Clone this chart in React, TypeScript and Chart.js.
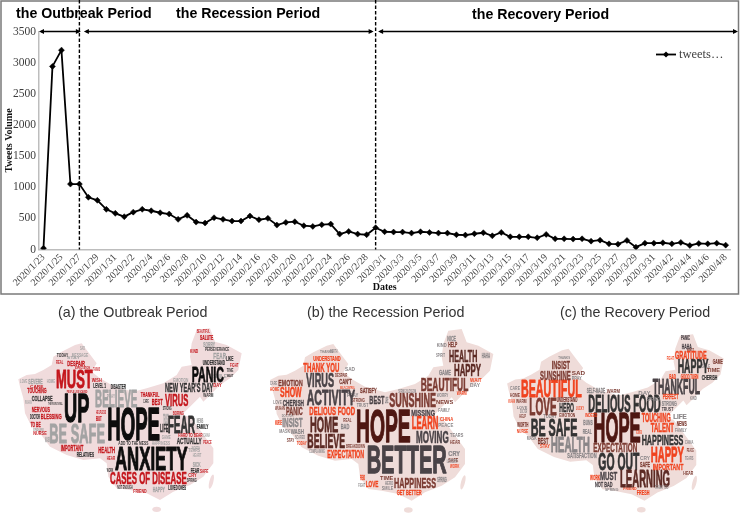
import React, { useEffect, useRef } from "react";
import { Chart, registerables } from "chart.js";

Chart.register(...registerables);

const DATES = ["2020/1/23","2020/1/24","2020/1/25","2020/1/26","2020/1/27","2020/1/28","2020/1/29","2020/1/30","2020/1/31",
"2020/2/1","2020/2/2","2020/2/3","2020/2/4","2020/2/5","2020/2/6","2020/2/7","2020/2/8","2020/2/9","2020/2/10","2020/2/11","2020/2/12","2020/2/13","2020/2/14","2020/2/15","2020/2/16","2020/2/17","2020/2/18","2020/2/19","2020/2/20","2020/2/21","2020/2/22","2020/2/23","2020/2/24","2020/2/25","2020/2/26","2020/2/27","2020/2/28","2020/2/29",
"2020/3/1","2020/3/2","2020/3/3","2020/3/4","2020/3/5","2020/3/6","2020/3/7","2020/3/8","2020/3/9","2020/3/10","2020/3/11","2020/3/12","2020/3/13","2020/3/14","2020/3/15","2020/3/16","2020/3/17","2020/3/18","2020/3/19","2020/3/20","2020/3/21","2020/3/22","2020/3/23","2020/3/24","2020/3/25","2020/3/26","2020/3/27","2020/3/28","2020/3/29","2020/3/30","2020/3/31",
"2020/4/1","2020/4/2","2020/4/3","2020/4/4","2020/4/5","2020/4/6","2020/4/7","2020/4/8"];

const TWEETS = [20,2940,3200,1050,1050,838,790,645,580,527,600,645,622,590,570,484,548,440,425,510,484,457,457,538,478,500,392,435,446,382,371,398,408,247,290,247,237,350,
285,280,280,263,285,274,263,263,237,231,253,269,220,274,204,204,204,188,242,172,172,167,172,134,150,91,86,145,38,102,102,108,91,113,65,97,91,102,70];

const SERIES_LABEL = "tweets…";
const Y_TITLE = "Tweets Volume";
const X_TITLE = "Dates";
const PERIODS = ["the Outbreak Period", "the Recession Period", "the Recovery Period"];
const PERIOD_SPLITS = ["2020/1/27", "2020/2/29"];
const CAPTIONS = ["(a) the Outbreak Period", "(b) the Recession Period", "(c) the Recovery Period"];

// ---- word lists (text only) ----
const WORDS_A = ["MUST","UP","BELIEVE","HOPE","BE SAFE","ANXIETY","CASES OF DISEASE","PANIC","NEW YEAR'S DAY","VIRUS","FEAR","ACTUALLY","HARD TO BEAR","BEST","THANKFUL","COLLAPSE","TOUCHING","NERVOUS","BLESSING","TO BE","SEVERE","DESPAIR","MESSAGE","WISH","LEVEL 1","DISASTER","HELPLESS","BUT","ADD TO THE MESS","HAPPINESS","HEALTH","IMPORTANT","RELATIVES","BORING","UNDERSTAND","PERSEVERANCE","SALUTE","SORRY","FEAR","LIKE","BEAUTIFUL","EMOTION","NOT ENOUGH","HAPPY","LOVED ONES","FEAR","SICK","REAL","EXPECTATION","THE PEOPLE'S WILL","PEOPLE LIVE SCARED","GAME","HEART","ENDURE","WORRY","CARE"];
const WORDS_B = ["HOPE","BETTER","HAPPINESS","GET BETTER","LOVE","SUNSHINE","BEAUTIFUL","HAPPY","HEALTH","HELP","NICE","GAME","MISSING","LEARN","MOVING","VIRUS","ACTIVITY","THANK YOU","UNDERSTAND","DELIOUS FOOD","HOME","BELIEVE","EXPECTATION","EMOTION","SHOW","CHERISH","PANIC","INSIST","WASH","SCARED","SATISFY","BEST","CAN'T","DESPAIR","BAD","BREAKDOWN","COMPLAINING","SPRING BLOSSOM","HERO","SPIRIT","HAHA","LOCKDOWN","REAL","SELF-CONTROL","WORTH","WORRY"];
const WORDS_C = ["HOPE","DELIOUS FOOD","BEAUTIFUL","LOVE","BE SAFE","HEALTH","EXPECTATION","GO OUT","LEARNING","MUST","NOT BAD","HAPPY","IMPORTANT","HAPPINESS","TALENT","TOUCHING","THANKFUL","HAPPY","GRATITUDE","HAHA","PANIC","PERFECT","SUNSHINE","INSIST","SELF-MADE","HERO","UNDERSTAND","EMOTION","BUNS","REAL","SATISFACTION","BEST","GOOD TURN","CHERISH","GAME","BAD","FRESH","THANK YOU","WARM","WORTH","HELP","INDEED","LUCKY","SPRING","RECOMMEND"];
const SMALL_WORDS = ["CARE","HOME","LOVE","WUHAN","DOCTOR","NURSE","MASK","STAY","TODAY","THANKS","SAD","PRAY","STRONG","TRUST","LIFE","NEWS","FAMILY","CHINA","PEACE","TEARS","HEAR","CRY","SAFE","WORK","SPRING","FRIEND","FIGHT","TIME","SMILE","WAIT","DAY","WARM","KIND"];

// ---- word-cloud layout, parallel to the lists above: x0, y0, x1, y1, tone ----
const TONES = ["#0d0d0d","#c4161c","#a3a3a3","#333333","#4e1712","#4a4347","#f0431f","#7c3c33","#5c2a24","#8a8688"];
const PLACE_A = [[168,212,278,265,1],[192,280,268,365,0],[285,272,412,320,2],[322,325,480,420,0],[148,372,315,428,2],[345,440,563,510,0],[330,518,560,552,1],[575,200,672,245,0],[495,250,640,275,3],[495,285,565,318,1],[503,350,585,398,3],[530,415,605,433,3],[535,398,608,410,1],[455,295,488,315,1],[422,277,478,290,1],[95,287,158,303,3],[82,265,140,280,1],[95,320,150,335,1],[122,342,185,358,1],[92,365,122,380,1],[85,237,128,252,2],[202,182,255,198,1],[215,160,265,172,2],[275,235,305,247,1],[280,252,318,265,3],[332,255,378,268,3],[288,330,318,342,1],[288,348,305,362,1],[355,424,445,436,3],[455,424,510,436,2],[295,440,345,458,1],[182,435,250,452,1],[230,458,282,472,3],[518,333,552,345,1],[608,183,675,196,3],[615,142,688,154,3],[600,107,640,120,1],[610,126,645,140,2],[640,158,678,178,2],[678,168,700,182,3],[590,88,630,98,1],[520,233,565,245,2],[352,558,398,568,3],[458,560,495,575,2],[505,557,558,570,3],[572,505,598,518,3],[578,487,602,500,2],[168,182,190,192,1],[225,200,270,208,1],[145,305,188,314,3],[200,271,262,278,1],[485,408,512,418,2],[578,460,604,472,2],[100,385,132,393,2],[575,440,600,450,2],[430,298,446,308,3]];
const PLACE_B = [[318,330,482,425,4],[350,440,590,520,5],[432,533,558,565,7],[440,568,515,584,6],[347,542,385,562,6],[418,280,558,322,7],[512,235,655,272,7],[612,192,693,228,8],[597,152,682,185,8],[595,126,622,142,7],[592,106,618,122,9],[567,210,603,226,9],[484,328,555,348,5],[485,350,565,388,6],[498,394,596,428,5],[168,222,252,262,5],[170,270,315,316,5],[160,190,268,215,6],[190,168,272,182,6],[178,322,315,346,6],[180,350,265,395,8],[172,402,285,445,8],[232,450,342,473,6],[85,238,158,258,7],[90,263,155,292,6],[98,298,162,318,5],[108,322,158,344,7],[97,355,158,382,9],[122,390,162,403,9],[135,408,165,418,9],[330,265,380,280,7],[358,288,403,312,5],[268,237,305,252,7],[255,218,292,230,7],[272,372,298,388,9],[288,433,345,445,7],[178,448,225,458,9],[445,268,498,278,9],[405,545,430,556,9],[558,158,585,170,9],[695,160,720,175,9],[590,478,622,490,9],[280,355,305,365,7],[270,258,315,267,6],[240,150,262,160,9],[560,280,595,290,9]];
const PLACE_C = [[310,338,452,425,4],[295,285,512,335,3],[93,243,275,292,6],[118,295,200,345,7],[122,357,262,407,3],[182,410,300,455,9],[310,428,442,455,7],[325,460,448,510,3],[390,512,540,560,8],[330,518,382,540,5],[315,545,368,560,5],[482,440,582,487,6],[488,490,580,510,6],[455,405,580,435,3],[482,370,552,397,6],[455,338,542,365,6],[488,235,630,282,5],[563,180,655,220,3],[555,155,650,177,6],[575,130,605,146,5],[573,106,600,120,5],[518,283,565,298,6],[150,212,242,240,7],[185,182,240,206,7],[290,265,345,280,9],[208,310,252,336,3],[200,293,262,306,7],[208,340,256,352,7],[280,360,308,376,9],[278,388,305,402,9],[232,460,320,475,9],[143,415,175,432,7],[572,225,625,238,6],[635,227,682,240,3],[668,178,698,192,7],[538,225,558,238,6],[440,570,478,584,6],[495,558,535,568,9],[78,298,110,310,7],[82,368,115,382,7],[88,345,108,355,7],[285,338,322,350,6],[258,318,282,330,6],[470,292,510,303,9],[438,392,456,402,6]];
const SMALL_A = [[90,255,130,263,1],[140,240,165,250,2],[60,240,82,250,2],[75,300,95,312,2],[90,345,120,358,3],[100,395,140,405,1],[135,410,150,425,2],[200,170,240,178,2],[170,160,205,170,3],[280,200,300,212,1],[240,140,255,150,2],[320,285,345,295,2],[488,318,515,330,3],[490,340,505,372,2],[480,372,505,395,3],[590,355,610,368,2],[590,375,625,388,3],[610,400,630,412,2],[610,420,635,432,1],[565,445,600,455,2],[320,470,345,480,1],[565,520,590,530,1],[600,510,625,520,1],[320,505,340,515,3],[560,535,590,545,3],[400,570,440,580,1],[690,190,715,200,1],[680,205,700,215,3],[640,225,680,235,2],[680,225,700,232,3],[640,250,665,262,1],[610,280,640,290,3],[570,150,595,160,1]];
const SMALL_B = [[60,245,82,255,9],[60,262,88,272,6],[70,300,95,312,9],[75,320,105,330,7],[95,345,130,352,9],[75,362,95,375,6],[88,390,120,400,9],[110,415,133,425,7],[140,425,170,435,6],[210,150,250,158,9],[285,200,315,212,9],[290,280,325,290,9],[305,295,345,305,7],[320,308,355,320,9],[405,290,415,310,9],[558,300,610,312,7],[565,325,600,335,9],[570,350,610,362,6],[565,368,610,380,9],[600,400,640,412,9],[600,420,630,432,7],[595,455,630,468,9],[595,475,625,487,7],[600,495,628,505,6],[562,530,590,545,9],[330,525,345,540,6],[325,550,345,560,9],[390,530,430,540,7],[395,560,430,570,9],[660,235,695,245,6],[660,250,690,260,9],[620,275,650,285,6],[560,130,590,140,9]];
const SMALL_C = [[60,260,90,270,9],[60,280,90,290,7],[80,318,112,326,9],[55,300,75,310,6],[90,330,112,340,9],[80,390,115,400,6],[110,410,140,420,9],[150,435,180,445,6],[160,345,200,355,9],[205,170,240,178,9],[245,215,285,225,7],[245,230,275,240,9],[515,305,560,318,9],[515,322,550,334,5],[550,345,590,358,9],[560,365,590,378,7],[555,385,590,395,9],[585,420,610,432,9],[590,445,612,457,7],[585,470,610,480,9],[580,515,610,525,7],[450,470,480,480,9],[450,485,480,500,7],[300,525,330,540,6],[345,565,385,572,9],[400,562,440,570,6],[530,170,552,180,6],[650,205,690,215,7],[635,195,660,205,9],[590,145,612,152,7],[445,275,482,285,9],[350,268,390,278,7],[600,290,620,300,9]];

// Map outline in panel (a) zoom units, and each panel's transform
const OUTLINE = [[55,238],[80,225],[105,222],[130,210],[155,195],[160,170],[185,155],[225,135],[245,130],[260,150],[290,190],[275,215],[300,235],[340,258],[400,275],[440,265],[490,250],[530,225],[545,200],[575,195],[570,170],[575,130],[590,90],[630,85],[645,125],[680,135],[725,160],[715,210],[690,235],[660,255],[625,290],[610,305],[600,290],[570,320],[545,345],[570,350],[600,390],[640,445],[640,490],[610,530],[570,555],[520,575],[480,600],[440,580],[390,570],[350,565],[325,530],[320,490],[300,475],[250,480],[200,465],[150,440],[120,400],[95,380],[75,340],[70,295],[60,260]];
const ISLANDS = [[470,628,13,8,0],[634,545,6,22,0.25]];
const PANELS = [
  { ox: 0, oy: 300, sx: 1, dx: 0, sy: 1, dy: 0, fill: "#f0dbdc", words: WORDS_A, place: PLACE_A, small: SMALL_A, cap: [58, 313] },
  { ox: 250, oy: 300, sx: 1, dx: 5, sy: 1, dy: 2, fill: "#efdcd9", words: WORDS_B, place: PLACE_B, small: SMALL_B, cap: [307, 313] },
  { ox: 490, oy: 300, sx: 0.97, dx: -2, sy: 0.97, dy: 20, fill: "#efdcd9", words: WORDS_C, place: PLACE_C, small: SMALL_C, cap: [560, 313] },
];

const overlay = {
  id: "overlay",
  afterDraw(chart: any) {
    const ctx = chart.ctx;
    const x = chart.scales.x;
    const y = chart.scales.y;
    const left = x.left;
    const xa = x.getPixelForValue(DATES.indexOf(PERIOD_SPLITS[0]));
    const xb = x.getPixelForValue(DATES.indexOf(PERIOD_SPLITS[1]));
    const yTop = y.getPixelForValue(3500);
    const yBase = y.getPixelForValue(0);
    ctx.save();
    ctx.strokeStyle = "#7a7a7a";
    ctx.lineWidth = 1.5;
    ctx.strokeRect(1, 1, 737.5, 293);
    ctx.strokeStyle = "#000";
    ctx.lineWidth = 1.4;
    ctx.setLineDash([3.5, 2]);
    [xa, xb].forEach((p) => {
      ctx.beginPath();
      ctx.moveTo(p, 0);
      ctx.lineTo(p, yBase);
      ctx.stroke();
    });
    ctx.setLineDash([]);
    const arrow = (a: number, b: number) => {
      ctx.lineWidth = 1.5;
      ctx.beginPath();
      ctx.moveTo(a + 2, yTop);
      ctx.lineTo(b - 2, yTop);
      ctx.stroke();
      ctx.fillStyle = "#000";
      [[a, 1], [b, -1]].forEach(([q, d]) => {
        ctx.beginPath();
        ctx.moveTo(q, yTop);
        ctx.lineTo(q + d * 5, yTop - 2.5);
        ctx.lineTo(q + d * 5, yTop + 2.5);
        ctx.closePath();
        ctx.fill();
      });
    };
    arrow(left, xa + 1.5);
    arrow(xa + 4.5, xb - 2);
    arrow(xb + 2.5, 738);
    ctx.fillStyle = "#000";
    ctx.font = "bold 14.2px 'Liberation Sans'";
    ctx.textBaseline = "middle";
    ctx.textAlign = "left";
    ctx.fillText(PERIODS[0], 16, 14);
    ctx.fillText(PERIODS[1], 176, 14);
    ctx.fillText(PERIODS[2], 472, 15);
    const ly = 54.5;
    ctx.strokeStyle = "#000";
    ctx.lineWidth = 1.8;
    ctx.beginPath();
    ctx.moveTo(656, ly);
    ctx.lineTo(676, ly);
    ctx.stroke();
    ctx.beginPath();
    ctx.moveTo(666, ly - 3);
    ctx.lineTo(669, ly);
    ctx.lineTo(666, ly + 3);
    ctx.lineTo(663, ly);
    ctx.closePath();
    ctx.fill();
    ctx.fillStyle = "#404040";
    ctx.font = "12.5px 'Liberation Serif'";
    ctx.fillText(chart.data.datasets[0].label, 679, ly);

    PANELS.forEach((p, i) => {
      const px = (v: number) => p.ox + (v * p.sx + p.dx) / 3;
      const py = (v: number) => p.oy + (v * p.sy + p.dy) / 3;
      ctx.fillStyle = p.fill;
      ctx.beginPath();
      OUTLINE.forEach(([a, b], k) => (k ? ctx.lineTo(px(a), py(b)) : ctx.moveTo(px(a), py(b))));
      ctx.closePath();
      ctx.fill();
      ISLANDS.forEach(([a, b, rx, ry, rot]) => {
        ctx.beginPath();
        ctx.ellipse(px(a), py(b), rx / 3, ry / 3, rot, 0, Math.PI * 2);
        ctx.fill();
      });
      ctx.textBaseline = "alphabetic";
      ctx.textAlign = "left";
      const drawWord = (w: string, r: number[]) => {
        const [x0, y0, x1, y1, tone] = r;
        const h = (y1 - y0) / 3;
        const wd = (x1 - x0) / 3;
        const size = h / 0.69;
        ctx.font = `bold ${size}px 'Liberation Sans Narrow', 'Liberation Sans'`;
        const m = ctx.measureText(w).width;
        ctx.save();
        ctx.translate(p.ox + x0 / 3, p.oy + y1 / 3);
        ctx.scale(wd / m, 1);
        ctx.fillStyle = TONES[tone];
        ctx.strokeStyle = TONES[tone];
        ctx.lineWidth = size * 0.035;
        ctx.lineJoin = "round";
        ctx.fillText(w, 0, 0);
        if (size > 6) ctx.strokeText(w, 0, 0);
        ctx.restore();
      };
      p.small.forEach((r: number[], k: number) => drawWord(SMALL_WORDS[k % SMALL_WORDS.length], r));
      p.words.forEach((w: string, k: number) => drawWord(w, p.place[k]));
      ctx.fillStyle = "#333";
      ctx.font = "14.3px 'Liberation Sans'";
      ctx.textBaseline = "middle";
      ctx.fillText(CAPTIONS[i], p.cap[0], p.cap[1]);
    });
    ctx.restore();
  },
};

export default function App() {
  const ref = useRef<HTMLCanvasElement | null>(null);
  useEffect(() => {
    const chart = new Chart(ref.current as HTMLCanvasElement, {
      type: "line",
      data: {
        labels: DATES,
        datasets: [
          {
            label: SERIES_LABEL,
            data: TWEETS,
            borderColor: "#000",
            backgroundColor: "#000",
            borderWidth: 1.8,
            pointStyle: "rectRot",
            pointRadius: 3,
            pointBackgroundColor: "#000",
            pointBorderColor: "#000",
            pointBorderWidth: 0.5,
            tension: 0,
          },
        ],
      },
      options: {
        responsive: false,
        animation: false,
        maintainAspectRatio: false,
        layout: { padding: { left: 0, top: 31.5, right: 9.8, bottom: 231.5 } },
        plugins: { legend: { display: false }, tooltip: { enabled: false }, title: { display: false } },
        scales: {
          x: {
            type: "category",
            offset: true,
            afterFit(s: any) {
              s.height = 44;
            },
            grid: { display: false, drawTicks: false },
            border: { display: true, color: "#bdbdbd", width: 1.5 },
            title: {
              display: true,
              text: X_TITLE,
              color: "#111",
              padding: { top: 0, bottom: 0 },
              font: { family: "'Liberation Serif'", size: 10, weight: "bold" },
            },
            ticks: {
              autoSkip: false,
              minRotation: 45,
              maxRotation: 45,
              padding: 2,
              color: "#444444",
              font: { family: "'Liberation Serif'", size: 10 },
              callback(this: any, v: any, i: number) {
                return i % 2 === 0 ? this.getLabelForValue(v) : "";
              },
            },
          },
          y: {
            min: 0,
            max: 3500,
            afterFit(s: any) {
              s.width = 39;
            },
            grid: { display: false, drawTicks: false },
            border: { display: true, color: "#bdbdbd", width: 1.5 },
            title: {
              display: true,
              text: Y_TITLE,
              color: "#111",
              padding: { top: 3, bottom: 0 },
              font: { family: "'Liberation Serif'", size: 10, weight: "bold" },
            },
            ticks: {
              stepSize: 500,
              padding: 3,
              color: "#3c3c3c",
              font: { family: "'Liberation Serif'", size: 11.5 },
              callback(v: any) {
                return String(v);
              },
            },
          },
        },
      },
      plugins: [overlay],
    } as any);
    return () => chart.destroy();
  }, []);
  return (
    <div style={{ position: "absolute", left: 0, top: 0, width: 740, height: 525, background: "#fff" }}>
      <canvas ref={ref} width={740} height={525} style={{ display: "block" }} />
    </div>
  );
}
